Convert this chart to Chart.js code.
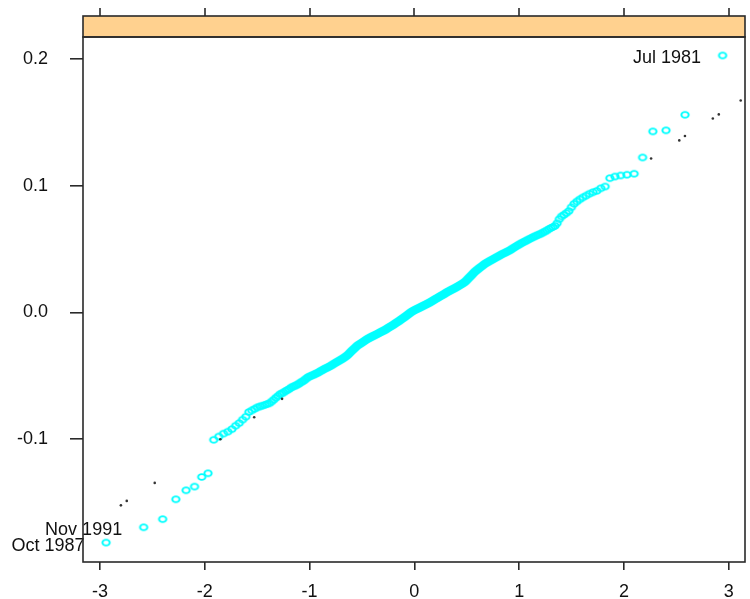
<!DOCTYPE html>
<html>
<head>
<meta charset="utf-8">
<script src="https://cdn.jsdelivr.net/npm/chart.js@4.4.1/dist/chart.umd.min.js"></script>
<style>
  html, body { margin: 0; padding: 0; background: #ffffff; overflow: hidden; }
  canvas { display: block; }
</style>
</head>
<body>
<canvas id="qq" width="750" height="599"></canvas>
<script>
// Sorted monthly returns (one value per month), smallest to largest
const returns = [
  -0.1815, -0.1694, -0.1630, -0.1473, -0.1402, -0.1373, -0.1297, -0.1268,
  -0.1004, -0.0978, -0.0955, -0.0940, -0.0920, -0.0893, -0.0872, -0.0845, -0.0822, -0.0785, -0.0772, -0.0760,
  -0.0748, -0.0741, -0.0735, -0.0729, -0.0722, -0.0716, -0.0702, -0.0688, -0.0672, -0.0660,
  -0.0645, -0.0638, -0.0630, -0.0620, -0.0612, -0.0604, -0.0593, -0.0586, -0.0581, -0.0575,
  -0.0568, -0.0561, -0.0552, -0.0545, -0.0538, -0.0528, -0.0519, -0.0510, -0.0505, -0.0500,
  -0.0495, -0.0490, -0.0486, -0.0480, -0.0476, -0.0470, -0.0463, -0.0458, -0.0452, -0.0446,
  -0.0442, -0.0437, -0.0432, -0.0428, -0.0422, -0.0418, -0.0411, -0.0405, -0.0400, -0.0394,
  -0.0389, -0.0385, -0.0379, -0.0374, -0.0369, -0.0364, -0.0358, -0.0352, -0.0346, -0.0340,
  -0.0333, -0.0325, -0.0316, -0.0308, -0.0300, -0.0293, -0.0285, -0.0278, -0.0270, -0.0262,
  -0.0257, -0.0252, -0.0247, -0.0242, -0.0237, -0.0232, -0.0227, -0.0222, -0.0216, -0.0211,
  -0.0207, -0.0203, -0.0199, -0.0195, -0.0191, -0.0188, -0.0184, -0.0180, -0.0177, -0.0173,
  -0.0169, -0.0166, -0.0162, -0.0158, -0.0154, -0.0151, -0.0147, -0.0143, -0.0140, -0.0136,
  -0.0132, -0.0127, -0.0123, -0.0118, -0.0114, -0.0110, -0.0106, -0.0101, -0.0097, -0.0093,
  -0.0088, -0.0083, -0.0079, -0.0074, -0.0070, -0.0065, -0.0060, -0.0055, -0.0051, -0.0046,
  -0.0041, -0.0036, -0.0031, -0.0026, -0.0021, -0.0016, -0.0011, -0.0006, 0.0000, 0.0005,
  0.0009, 0.0013, 0.0016, 0.0020, 0.0023, 0.0027, 0.0030, 0.0033, 0.0037, 0.0040,
  0.0043, 0.0047, 0.0050, 0.0054, 0.0057, 0.0060, 0.0064, 0.0067, 0.0071, 0.0074,
  0.0078, 0.0082, 0.0086, 0.0090, 0.0094, 0.0098, 0.0103, 0.0107, 0.0111, 0.0115,
  0.0119, 0.0123, 0.0127, 0.0131, 0.0135, 0.0139, 0.0143, 0.0147, 0.0152, 0.0157,
  0.0161, 0.0164, 0.0168, 0.0172, 0.0176, 0.0180, 0.0184, 0.0187, 0.0191, 0.0195,
  0.0199, 0.0203, 0.0208, 0.0212, 0.0217, 0.0221, 0.0225, 0.0230, 0.0235, 0.0240,
  0.0247, 0.0255, 0.0263, 0.0271, 0.0279, 0.0287, 0.0295, 0.0303, 0.0312, 0.0321,
  0.0327, 0.0334, 0.0340, 0.0347, 0.0353, 0.0360, 0.0366, 0.0372, 0.0379, 0.0385,
  0.0390, 0.0395, 0.0400, 0.0405, 0.0410, 0.0415, 0.0420, 0.0425, 0.0430, 0.0435,
  0.0440, 0.0445, 0.0451, 0.0456, 0.0461, 0.0466, 0.0471, 0.0475, 0.0480, 0.0485,
  0.0491, 0.0497, 0.0504, 0.0511, 0.0517, 0.0524, 0.0531, 0.0537, 0.0544, 0.0550,
  0.0556, 0.0562, 0.0568, 0.0575, 0.0581, 0.0587, 0.0594, 0.0600, 0.0606, 0.0613,
  0.0617, 0.0624, 0.0632, 0.0640, 0.0648, 0.0658, 0.0667, 0.0675, 0.0684, 0.0704,
  0.0736, 0.0758, 0.0771, 0.0784, 0.0800, 0.0830, 0.0858, 0.0876, 0.0893, 0.0908,
  0.0922, 0.0937, 0.0949, 0.0960, 0.0980, 0.0994,
  0.1060, 0.1073, 0.1081, 0.1087, 0.1095, 0.1223, 0.1429, 0.1437, 0.1560, 0.2028
];

// Months named next to their points (rank 1 = smallest return)
const namedRanks = [1, 2, 306];
const namedMonths = ["Oct 1987", "Nov 1991", "Jul 1981"];

// Second set of points, drawn as small dots
const dotX = [-2.800, -2.744, -2.477, -1.851, -1.528, -1.262, 2.259, 2.528, 2.582, 2.848, 2.905, 3.114];
const dotY = [-0.1521, -0.1486, -0.1344, -0.1000, -0.0826, -0.0681, 0.1215, 0.1358, 0.1392, 0.1531, 0.1563, 0.1673];

// Axes
const xTicks = [-3, -2, -1, 0, 1, 2, 3];
const xTickLabels = ["-3", "-2", "-1", "0", "1", "2", "3"];
const yTicks = [-0.1, 0, 0.1, 0.2];
const yTickLabels = ["-0.1", "0.0", "0.1", "0.2"];
const xRange = [-3.1615, 3.155];
const yRange = [-0.1968, 0.21735];

const FONT = "'Liberation Sans', Arial, Helvetica, sans-serif";
const INK = "#2a2a2a";
const STRIP_FILL = "#FFD18F";
const STRIP_TOP = 16;

// Inverse of the standard normal CDF (Acklam's rational approximation)
function qnorm(p) {
  const a = [-3.969683028665376e+01, 2.209460984245205e+02, -2.759285104469687e+02,
             1.383577518672690e+02, -3.066479806614716e+01, 2.506628277459239e+00];
  const b = [-5.447609879822406e+01, 1.615858368580409e+02, -1.556989798598866e+02,
             6.680131188771972e+01, -1.328068155288572e+01];
  const c = [-7.784894002430293e-03, -3.223964580411365e-01, -2.400758277161838e+00,
             -2.549732539343734e+00, 4.374664141464968e+00, 2.938163982698783e+00];
  const d = [7.784695709041462e-03, 3.224671290700398e-01, 2.445134137142996e+00,
             3.754408661907416e+00];
  const pLow = 0.02425;
  let q, r;
  if (p < pLow) {
    q = Math.sqrt(-2 * Math.log(p));
    return (((((c[0]*q+c[1])*q+c[2])*q+c[3])*q+c[4])*q+c[5]) / ((((d[0]*q+d[1])*q+d[2])*q+d[3])*q+1);
  }
  if (p > 1 - pLow) {
    q = Math.sqrt(-2 * Math.log(1 - p));
    return -(((((c[0]*q+c[1])*q+c[2])*q+c[3])*q+c[4])*q+c[5]) / ((((d[0]*q+d[1])*q+d[2])*q+d[3])*q+1);
  }
  q = p - 0.5;
  r = q * q;
  return (((((a[0]*r+a[1])*r+a[2])*r+a[3])*r+a[4])*r+a[5])*q /
         (((((b[0]*r+b[1])*r+b[2])*r+b[3])*r+b[4])*r+1);
}

// Theoretical normal quantiles at plotting positions (i - 0.5) / n
const n = returns.length;
const qqPoints = returns.map((v, i) => ({ x: qnorm((i + 0.5) / n), y: v }));
const dotPoints = dotX.map((x, i) => ({ x: x, y: dotY[i] }));

// Open cyan ring used as the point symbol
function ringSprite() {
  const c = document.createElement("canvas");
  c.width = 12; c.height = 10;
  const g = c.getContext("2d");
  g.strokeStyle = "#00FFFF";
  g.lineWidth = 1.9;
  g.beginPath();
  g.ellipse(6, 5, 3.7, 2.9, 0, 0, Math.PI * 2);
  g.stroke();
  return c;
}

// Panel box, strip above it and tick marks along the strip's top edge
const panelFrame = {
  id: "panelFrame",
  afterDraw(chart) {
    const { ctx, chartArea: a, scales: { x } } = chart;
    ctx.save();
    ctx.fillStyle = STRIP_FILL;
    ctx.fillRect(a.left, STRIP_TOP, a.right - a.left, a.top - STRIP_TOP);
    ctx.strokeStyle = INK;
    ctx.lineWidth = 1.6;
    ctx.strokeRect(a.left, STRIP_TOP, a.right - a.left, a.top - STRIP_TOP);
    ctx.strokeRect(a.left, a.top, a.right - a.left, a.bottom - a.top);
    xTicks.forEach(v => {
      const px = Math.round(x.getPixelForValue(v));
      ctx.beginPath();
      ctx.moveTo(px, STRIP_TOP);
      ctx.lineTo(px, STRIP_TOP - 8);
      ctx.stroke();
    });
    ctx.restore();
  }
};

// Month names written to the left of their points
const monthNames = {
  id: "monthNames",
  afterDatasetsDraw(chart) {
    const { ctx, scales: { x, y } } = chart;
    ctx.save();
    ctx.font = "18px " + FONT;
    ctx.fillStyle = "#111";
    ctx.textAlign = "right";
    ctx.textBaseline = "middle";
    namedRanks.forEach((rank, k) => {
      const p = qqPoints[rank - 1];
      const px = x.getPixelForValue(p.x);
      const py = y.getPixelForValue(p.y);
      ctx.fillText(namedMonths[k], px - 21.5, py + 3);
    });
    ctx.restore();
  }
};

new Chart(document.getElementById("qq"), {
  type: "scatter",
  data: {
    datasets: [
      {
        data: dotPoints,
        pointStyle: "circle",
        pointRadius: 1.3,
        pointBorderWidth: 0,
        backgroundColor: "#333333",
        borderColor: "#333333",
        order: 0
      },
      {
        data: qqPoints,
        pointStyle: ringSprite(),
        pointRadius: 4,
        order: 1
      }
    ]
  },
  options: {
    responsive: false,
    animation: false,
    devicePixelRatio: 1,
    layout: { padding: { top: 37, right: 2, left: 0, bottom: 0 } },
    plugins: { legend: { display: false }, tooltip: { enabled: false } },
    scales: {
      x: {
        type: "linear",
        position: "bottom",
        min: xRange[0],
        max: xRange[1],
        afterBuildTicks(s) { s.ticks = xTicks.map(v => ({ value: v })); },
        afterFit(s) { s.height = 37; },
        ticks: {
          autoSkip: false,
          maxRotation: 0,
          padding: 11,
          color: "#111",
          font: { family: FONT, size: 18 },
          callback: (v, i) => xTickLabels[i]
        },
        grid: { drawOnChartArea: false, drawTicks: true, tickLength: 8, color: INK, lineWidth: 1.6 },
        border: { display: false }
      },
      y: {
        type: "linear",
        position: "left",
        min: yRange[0],
        max: yRange[1],
        afterBuildTicks(s) { s.ticks = yTicks.map(v => ({ value: v })); },
        afterFit(s) { s.width = 83; },
        ticks: {
          autoSkip: false,
          padding: 22,
          color: "#111",
          font: { family: FONT, size: 18 },
          callback: (v, i) => yTickLabels[i]
        },
        grid: { drawOnChartArea: false, drawTicks: true, tickLength: 13, color: INK, lineWidth: 1.6 },
        border: { display: false }
      }
    }
  },
  plugins: [panelFrame, monthNames]
});
</script>
</body>
</html>
